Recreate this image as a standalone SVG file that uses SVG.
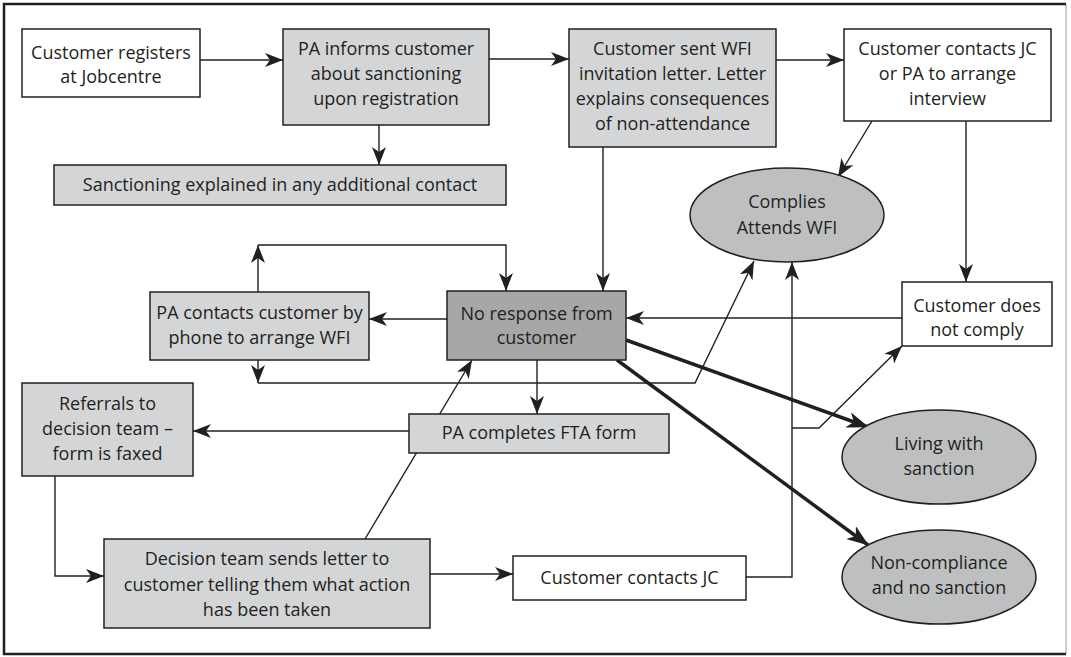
<svg xmlns="http://www.w3.org/2000/svg" width="1071" height="657" viewBox="0 0 1071 657">
<style>
  .box { stroke: #231f20; stroke-width: 1.5; }
  .white { fill: #ffffff; }
  .light { fill: #d4d5d7; }
  .dark { fill: #a6a7a9; }
  .oval { fill: #bebfc1; stroke: #231f20; stroke-width: 1.5; }
  text { font-family: "Open Sans", "Noto Sans", "DejaVu Sans", sans-serif; font-size: 18px; fill: #231f20; text-anchor: middle; dominant-baseline: central; }
  .c { fill: none; stroke: #231f20; stroke-width: 1.4; }
  .a { marker-end: url(#arr); }
  .thick { fill: none; stroke: #231f20; stroke-width: 3.5; marker-end: url(#arrT); }
</style>
<defs>
  <marker id="arr" viewBox="0 0 18 14" markerWidth="18" markerHeight="14" refX="18" refY="7" orient="auto" markerUnits="userSpaceOnUse">
    <path d="M0,0 L18,7 L0,14 L5,7 Z" fill="#231f20"/>
  </marker>
  <marker id="arrT" viewBox="0 0 22 16" markerWidth="22" markerHeight="16" refX="21" refY="8" orient="auto" markerUnits="userSpaceOnUse">
    <path d="M0,0 L22,8 L0,16 L6,8 Z" fill="#231f20"/>
  </marker>
</defs>
<rect x="0" y="0" width="1071" height="657" fill="#ffffff"/>
<g id="frame">
  <line x1="1066" y1="4" x2="1066" y2="654" stroke="#9a9a9a" stroke-width="1"/>
  <path d="M1066,4 H4 V654 H1066" fill="none" stroke="#231f20" stroke-width="2.5"/>
</g>
<g id="connectors">
  <path class="c a" d="M200,60 H283"/>
  <path class="c a" d="M489,59 H569"/>
  <path class="c a" d="M776,60 H844"/>
  <path class="c a" d="M379,125 V165"/>
  <path class="c a" d="M603,147 V291"/>
  <path class="c a" d="M872,121 L838,177"/>
  <path class="c a" d="M966,121 V282"/>
  <path class="c a" d="M902,318 H626"/>
  <path class="c a" d="M447,319 H369"/>
  <path class="c a" d="M258,292 V245"/>
  <path class="c a" d="M258,245 H506 V291"/>
  <path class="c a" d="M258,360 V383"/>
  <path class="c a" d="M258,383 H695 L754,261"/>
  <path class="c a" d="M537,360 V414"/>
  <path class="c a" d="M409,431 H193"/>
  <path class="c a" d="M365,539 L472,360"/>
  <path class="thick" d="M626,340 L868,427"/>
  <path class="thick" d="M617,360 L868,545"/>
  <path class="c a" d="M55,476 V576 H104"/>
  <path class="c a" d="M430,574 H513"/>
  <path class="c a" d="M746,577 H792 V262"/>
  <path class="c a" d="M792,428 H819 L902,346"/>
</g>
<g id="n-registers">
  <rect class="box white" x="22" y="29" width="178" height="68"/>
  <text x="111" y="52">Customer registers</text>
  <text x="111" y="76">at Jobcentre</text>
</g>
<g id="n-pa-informs">
  <rect class="box light" x="283" y="29" width="206" height="96"/>
  <text x="386" y="48">PA informs customer</text>
  <text x="386" y="73">about sanctioning</text>
  <text x="386" y="98">upon registration</text>
</g>
<g id="n-sanctioning">
  <rect class="box light" x="54" y="165" width="452" height="40"/>
  <text x="280" y="184">Sanctioning explained in any additional contact</text>
</g>
<g id="n-wfi-letter">
  <rect class="box light" x="569" y="29" width="207" height="118"/>
  <text x="672.5" y="48">Customer sent WFI</text>
  <text x="672.5" y="73">invitation letter. Letter</text>
  <text x="672.5" y="98">explains consequences</text>
  <text x="672.5" y="123">of non-attendance</text>
</g>
<g id="n-contacts-pa">
  <rect class="box white" x="844" y="29" width="207" height="92"/>
  <text x="947.5" y="48">Customer contacts JC</text>
  <text x="947.5" y="73">or PA to arrange</text>
  <text x="947.5" y="98">interview</text>
</g>
<g id="n-complies">
  <ellipse class="oval" cx="787" cy="215" rx="97" ry="47"/>
  <text x="787" y="201">Complies</text>
  <text x="787" y="227">Attends WFI</text>
</g>
<g id="n-pa-phone">
  <rect class="box light" x="150" y="292" width="219" height="68"/>
  <text x="259.5" y="312">PA contacts customer by</text>
  <text x="259.5" y="337">phone to arrange WFI</text>
</g>
<g id="n-no-response">
  <rect class="box dark" x="447" y="291" width="179" height="69"/>
  <text x="536.5" y="313">No response from</text>
  <text x="536.5" y="337">customer</text>
</g>
<g id="n-not-comply">
  <rect class="box white" x="902" y="282" width="150" height="64"/>
  <text x="977" y="305">Customer does</text>
  <text x="977" y="329">not comply</text>
</g>
<g id="n-referrals">
  <rect class="box light" x="22" y="383" width="171" height="93"/>
  <text x="107.5" y="403">Referrals to</text>
  <text x="107.5" y="428">decision team –</text>
  <text x="107.5" y="453">form is faxed</text>
</g>
<g id="n-fta">
  <rect class="box light" x="409" y="414" width="260" height="39"/>
  <text x="539" y="432">PA completes FTA form</text>
</g>
<g id="n-living">
  <ellipse class="oval" cx="939" cy="457" rx="97" ry="47"/>
  <text x="939" y="443">Living with</text>
  <text x="939" y="468">sanction</text>
</g>
<g id="n-decision">
  <rect class="box light" x="104" y="539" width="326" height="89"/>
  <text x="267" y="558">Decision team sends letter to</text>
  <text x="267" y="584">customer telling them what action</text>
  <text x="267" y="609">has been taken</text>
</g>
<g id="n-contacts-jc">
  <rect class="box white" x="513" y="556" width="233" height="44"/>
  <text x="629.5" y="577">Customer contacts JC</text>
</g>
<g id="n-noncompliance">
  <ellipse class="oval" cx="939" cy="577" rx="97" ry="47"/>
  <text x="939" y="562">Non-compliance</text>
  <text x="939" y="587">and no sanction</text>
</g>
</svg>
